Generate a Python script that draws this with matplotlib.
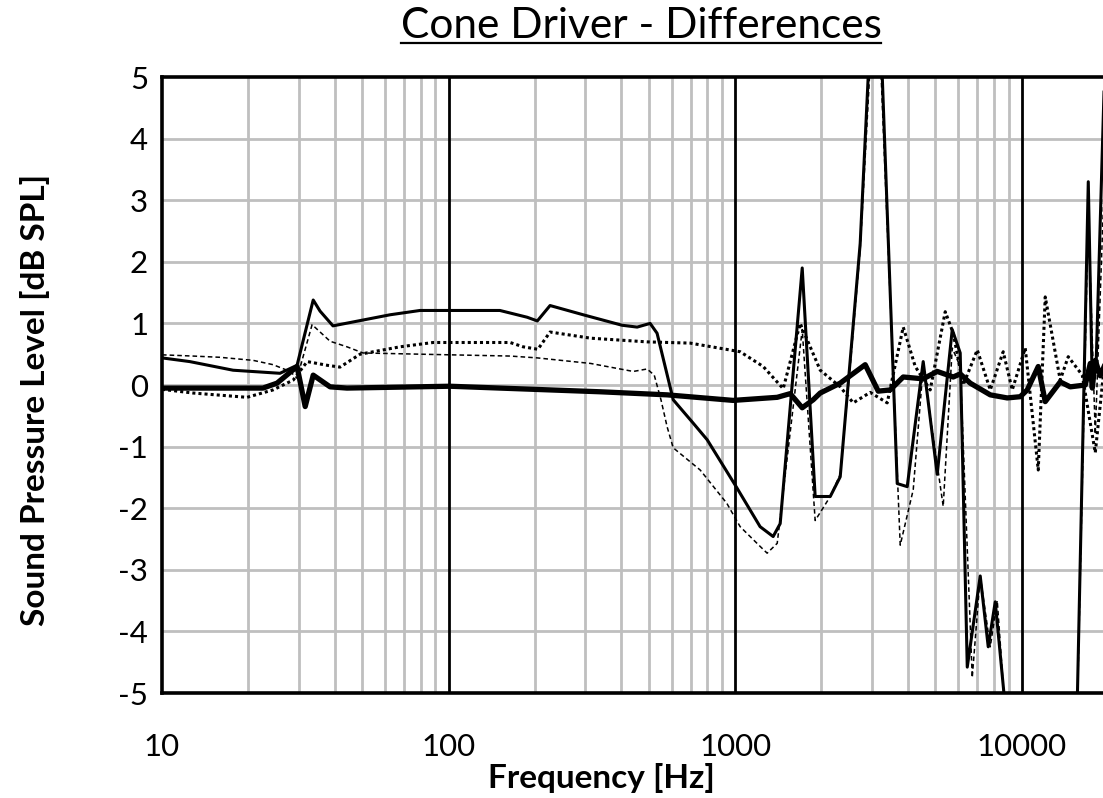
import matplotlib
matplotlib.use("Agg")
import matplotlib.pyplot as plt
from matplotlib.lines import Line2D
from matplotlib.ticker import FixedLocator, NullFormatter

plt.rcParams['font.family'] = ['Lato', 'DejaVu Sans']

# values: frequency [Hz] and level difference [dB]
thick_f = [10, 22.5, 25.2, 29.6, 31.6, 33.7, 38.6, 44.2, 101, 151, 338, 579, 984,
           1402, 1556, 1714, 1872, 1981, 2326, 2520, 2843, 3157, 3475, 3859, 4531,
           5071, 5767, 6100, 6612, 7765, 8899, 9880, 10452, 11419, 12078, 13624,
           14765, 16662, 17345, 17627, 18056, 18793, 20000]
thick_db = [-0.05, -0.05, 0.03, 0.30, -0.35, 0.16, -0.03, -0.05, -0.02, -0.05, -0.11,
            -0.16, -0.25, -0.20, -0.14, -0.37, -0.24, -0.13, 0.03, 0.15, 0.33, -0.10,
            -0.08, 0.13, 0.10, 0.22, 0.13, 0.18, 0.03, -0.16, -0.21, -0.19, -0.08,
            0.30, -0.27, 0.05, -0.03, 0.00, 0.35, -0.05, 0.40, 0.15, 0.45]

solid_f = [10, 12.5, 17.7, 25.8, 29.6, 33.7, 35.6, 39.5, 62.5, 79.5, 151, 188, 204,
           226, 295, 403, 455, 505, 534, 608, 714, 799, 1008, 1222, 1357, 1436, 1714,
           1902, 2147, 2326, 2520, 2731, 3105, 3677, 3985, 4531, 5071, 5721, 6100,
           6455, 7164, 7640, 8083, 8687, 10000, 15005, 17069, 17627, 18197, 20000]
solid_db = [0.44, 0.38, 0.24, 0.19, 0.32, 1.38, 1.20, 0.96, 1.14, 1.21, 1.21, 1.10,
            1.04, 1.29, 1.14, 0.97, 0.94, 1.00, 0.84, -0.24, -0.62, -0.89, -1.65,
            -2.30, -2.46, -2.25, 1.90, -1.81, -1.81, -1.49, 0.40, 2.30, 7.70, -1.60,
            -1.65, 0.38, -1.45, 0.90, 0.52, -4.58, -3.10, -4.25, -3.52, -5.05, -7.0,
            -9.0, 3.30, 0.00, 0.40, 7.00]

dotted_f = [10, 12.8, 19.8, 24.4, 28.7, 32.1, 37.7, 41.8, 49.1, 67.7, 88.3, 164, 182,
            205, 226, 313, 493, 697, 1041, 1253, 1471, 1686, 1981, 2326, 2582, 2960,
            3393, 3859, 4250, 4793, 5408, 5767, 6250, 6995, 7765, 8617, 9265, 10285,
            11419, 12078, 13624, 14530, 16266, 18056, 19500]
dotted_db = [-0.07, -0.13, -0.20, -0.08, 0.08, 0.38, 0.32, 0.29, 0.50, 0.62, 0.69,
             0.69, 0.62, 0.58, 0.86, 0.76, 0.70, 0.68, 0.54, 0.30, -0.06, 1.00, 0.24,
             -0.03, -0.29, -0.12, -0.29, 0.94, 0.30, -0.08, 1.19, 0.84, 0.00, 0.57,
             -0.08, 0.54, -0.08, 0.60, -1.38, 1.43, 0.08, 0.46, 0.16, -1.10, 0.40]

dashed_f = [10, 12.8, 15.9, 20.8, 24.4, 28.0, 29.6, 33.4, 38.6, 44.2, 50.3, 101, 164,
            204, 313, 441, 493, 522, 551, 579, 608, 755, 935, 1041, 1222, 1293, 1402,
            1714, 1902, 2147, 2326, 2520, 2731, 3105, 3767, 4182, 4531, 5321, 5721,
            6100, 6719, 7164, 7765, 8214, 8687, 10000, 15005, 17069, 18056, 20000]
dashed_db = [0.49, 0.47, 0.45, 0.40, 0.33, 0.22, 0.11, 0.98, 0.71, 0.62, 0.52, 0.49,
             0.47, 0.44, 0.35, 0.22, 0.26, 0.16, -0.24, -0.68, -1.02, -1.38, -1.92,
             -2.30, -2.62, -2.73, -2.57, 0.90, -2.20, -1.81, -1.45, 0.30, 2.20, 7.00,
             -2.60, -1.70, 0.30, -1.97, 0.60, 0.30, -4.75, -3.10, -4.25, -3.50, -5.10,
             -7.0, -9.0, 2.80, -0.80, 5.00]

x_ticks = [10, 100, 1000, 10000]
x_minor = [20, 30, 40, 50, 60, 70, 80, 90, 200, 300, 400, 500, 600, 700, 800, 900,
           2000, 3000, 4000, 5000, 6000, 7000, 8000, 9000]
y_ticks = [-5, -4, -3, -2, -1, 0, 1, 2, 3, 4, 5]

fig = plt.figure(figsize=(11.03, 7.98), dpi=100)
ax = fig.add_axes([162 / 1103, 1 - 693 / 798, (1108 - 162) / 1103, (693 - 77) / 798])

ax.set_xscale('log')
ax.set_xlim(10, 20000)
ax.set_ylim(-5, 5)

# grid like the spreadsheet: grey minor lines, black decade lines
for f in x_minor:
    ax.axvline(f, color='#bfbfbf', lw=2.0, zorder=0)
for v in y_ticks[1:-1]:
    ax.axhline(v, color='#bfbfbf', lw=2.0, zorder=0)
for f in x_ticks[1:]:
    ax.axvline(f, color='black', lw=2.0, zorder=1)

ax.plot(dashed_f, dashed_db, color='black', lw=1.1, ls=(0, (3, 2)), zorder=2)
ax.plot(dotted_f, dotted_db, color='black', lw=2.2, ls=(0, (1, 1)), zorder=3)
ax.plot(solid_f, solid_db, color='black', lw=2.2, zorder=4)
ax.plot(thick_f, thick_db, color='black', lw=3.8, zorder=5)

ax.xaxis.set_major_locator(FixedLocator(x_ticks))
ax.xaxis.set_minor_locator(FixedLocator(x_minor))
ax.xaxis.set_minor_formatter(NullFormatter())
ax.set_xticklabels([str(t) for t in x_ticks])
ax.set_yticks(y_ticks)
ax.set_yticklabels([str(t) for t in y_ticks])
ax.tick_params(which='both', length=0, labelsize=22.5)
ax.tick_params(axis='x', pad=29)
ax.tick_params(axis='y', pad=10)

for side in ['left', 'bottom', 'top', 'right']:
    ax.spines[side].set_linewidth(2.6)
    ax.spines[side].set_zorder(6)

fig.text(601 / 1103, 1 - 778 / 798, 'Frequency [Hz]', fontsize=24, fontweight='bold',
         ha='center', va='center')
fig.text(35 / 1103, 1 - 400 / 798, 'Sound Pressure Level [dB SPL]', fontsize=24,
         fontweight='bold', ha='center', va='center', rotation=90)

title = fig.text(641 / 1103, 1 - 26 / 798, 'Cone Driver - Differences',
                 ha='center', va='center', fontsize=30.5)
fig.canvas.draw()
bb = title.get_window_extent().transformed(fig.transFigure.inverted())
fig.add_artist(Line2D([bb.x0, bb.x1], [bb.y0 + 0.002] * 2, color='black', lw=1.6,
                      transform=fig.transFigure))

fig.savefig('out.png', dpi=100)
